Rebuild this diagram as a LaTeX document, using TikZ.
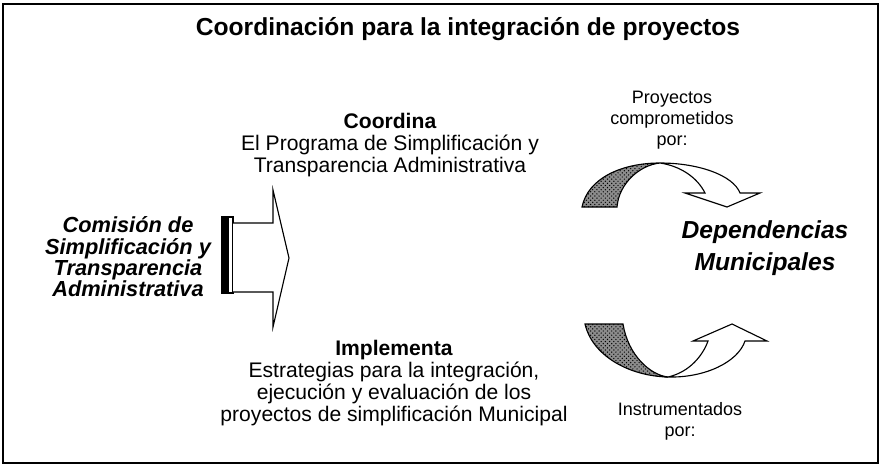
\documentclass[tikz,border=0pt]{standalone}
\usepackage{fontspec}
\setmainfont{Liberation Sans}
\usetikzlibrary{patterns}

\begin{document}
\begin{tikzpicture}[x=0.025cm, y=-0.025cm,
  frame/.style={draw=black, line width=1.4pt},
  body/.style={align=center, inner sep=0pt, font=\fontsize{15}{15.6}\selectfont},
  side/.style={align=center, inner sep=0pt, font=\fontsize{12.8}{15}\selectfont},
  lead/.style={align=center, inner sep=0pt, font=\fontsize{15.5}{15.2}\selectfont\bfseries\itshape},
  back/.style={draw=black, line width=0.8pt, fill=black!45,
               postaction={pattern=crosshatch dots, pattern color=black}},
  front/.style={draw=black, line width=0.8pt, fill=white}
]
  \useasboundingbox (0,0) rectangle (881,466);
  \draw[frame] (3,4) rectangle (878,463);

  \node[anchor=base, font=\fontsize{17.5}{20}\selectfont\bfseries] (title) at (468,36)
    {Coordinación para la integración de proyectos};

  \node[lead] (comision) at (128,257)
    {Comisión de\\Simplificación y\\Transparencia\\Administrativa};

  % block arrow
  \fill (222,217) rectangle (229,293);
  \draw[line width=0.8pt] (222,217) rectangle (233,293);
  \draw[front] (233,223) -- (273,223) -- (273,190) -- (289,258)
    -- (273,327) -- (273,292) -- (233,292);

  \node[body] (coordina) at (390,145)
    {\textbf{Coordina}\\El Programa de Simplificación y\\Transparencia Administrativa};
  \node[body] (implementa) at (394,383)
    {\textbf{Implementa}\\Estrategias para la integración,\\ejecución y evaluación de los\\proyectos de simplificación Municipal};

  \node[side] (proyectos) at (672,120) {Proyectos\\comprometidos\\por:};
  \node[side] (instrum) at (680,421) {Instrumentados\\por:};

  \node[align=center, inner sep=0pt, font=\fontsize{17.5}{22.8}\selectfont\bfseries\itshape]
    (dependencias) at (765,248) {Dependencias\\Municipales};

  % curved arrows
  \draw[back] (582,207) .. controls (588,178) and (622,163) .. (660,163)
    .. controls (640,165) and (619,183) .. (617,207) -- cycle;
  \draw[front] (660,163) .. controls (698,163) and (733,175) .. (740,193)
    -- (760,193) -- (727,207) -- (685,193) -- (705,193)
    .. controls (697,177) and (680,166) .. (660,163) -- cycle;

  \draw[back] (585,324) .. controls (592,355) and (628,376) .. (668,377)
    .. controls (650,375) and (628,355) .. (623,324) -- cycle;
  \draw[front] (668,377) .. controls (690,372) and (703,355) .. (708,341)
    -- (693,341) -- (732,324) -- (767,341) -- (745,341)
    .. controls (738,362) and (705,378) .. (668,377) -- cycle;
\end{tikzpicture}
\end{document}
